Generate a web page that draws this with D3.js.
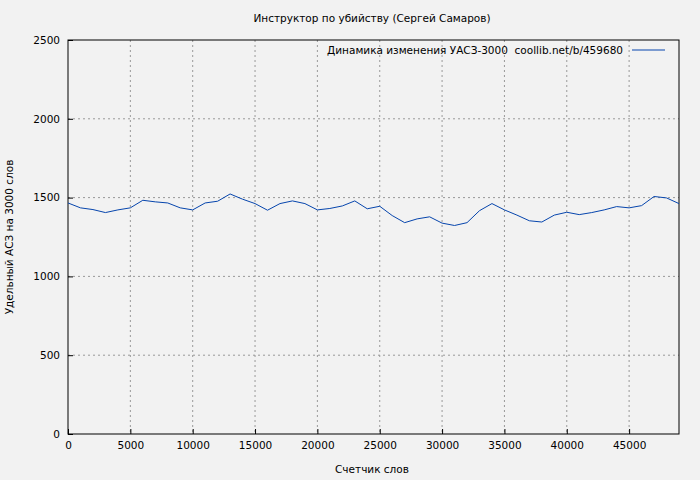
<!DOCTYPE html>
<html><head><meta charset="utf-8">
<script src="https://cdn.jsdelivr.net/npm/d3@7"></script>
<style>body{margin:0;background:#f2f2f2}</style>
</head><body><svg id="c"></svg>
<script>
const words = d3.range(0, 50000, 1000);
const values = [1466,1435,1424,1405,1422,1435,1483,1473,1466,1435,1422,1466,1477,1523,1490,1462,1420,1462,1479,1462,
  1422,1431,1447,1479,1429,1445,1386,1341,1365,1378,1338,1323,1341,1417,1462,1422,1389,1353,1345,1389,
  1407,1392,1405,1422,1443,1435,1449,1507,1498,1462];
const xTicks = d3.range(0, 50000, 5000);
const yTicks = d3.range(0, 2501, 500);

const W = 700, H = 480, m = {l: 68, r: 21, t: 40, b: 46};
const FS = '10.5px';
const svg = d3.select('#c').attr('width', W).attr('height', H)
  .style('font-family', 'DejaVu Sans').style('font-size', FS);
svg.append('rect').attr('width', W).attr('height', H).attr('fill', '#f2f2f2');

const x = d3.scaleLinear().domain([0, 49000]).range([m.l, W - m.r]);
const y = d3.scaleLinear().domain([0, 2500]).range([H - m.b, m.t]);

// grid
svg.append('g').selectAll('line').data(xTicks.slice(1)).join('line')
  .attr('x1', d => x(d)).attr('x2', d => x(d)).attr('y1', m.t).attr('y2', H - m.b)
  .attr('stroke', '#999').attr('stroke-dasharray', '2,3');
svg.append('g').selectAll('line').data(yTicks.slice(1, -1)).join('line')
  .attr('y1', d => y(d)).attr('y2', d => y(d)).attr('x1', m.l).attr('x2', W - m.r)
  .attr('stroke', '#999').attr('stroke-dasharray', '2,3');

const ax = svg.append('g').attr('transform', `translate(0,${H - m.b})`)
  .call(d3.axisBottom(x).tickValues(xTicks).tickSizeInner(-5).tickSizeOuter(0).tickPadding(8).tickFormat(d3.format('d')));
const ay = svg.append('g').attr('transform', `translate(${m.l},0)`)
  .call(d3.axisLeft(y).tickValues(yTicks).tickSizeInner(-5).tickSizeOuter(0).tickPadding(8).tickFormat(d3.format('d')));
[ax, ay].forEach(a => { a.select('.domain').remove(); a.selectAll('text').attr('fill', '#000').style('font-family', 'DejaVu Sans').style('font-size', FS); });

svg.append('rect').attr('x', m.l).attr('y', m.t).attr('width', W - m.r - m.l).attr('height', H - m.b - m.t)
  .attr('fill', 'none').attr('stroke', '#000');

svg.append('path').datum(words.map((w, i) => [w, values[i]]))
  .attr('fill', 'none').attr('stroke', '#0645ad').attr('stroke-width', 1)
  .attr('d', d3.line().x(d => x(d[0])).y(d => y(d[1])));

svg.append('text').attr('x', 372).attr('y', 22).attr('text-anchor', 'middle').text('Инструктор по убийству (Сергей Самаров)');
svg.append('text').attr('x', 372).attr('y', 473).attr('text-anchor', 'middle').text('Счетчик слов');
svg.append('text').attr('transform', `translate(13,${(m.t + H - m.b) / 2}) rotate(-90)`).attr('text-anchor', 'middle').text('Удельный АСЗ на 3000 слов');
svg.append('text').attr('x', 623).attr('y', 54).attr('text-anchor', 'end').text('Динамика изменения УАСЗ-3000  coollib.net/b/459680').attr('xml:space', 'preserve');
svg.append('line').attr('x1', 632).attr('x2', 665).attr('y1', 50).attr('y2', 50).attr('stroke', '#0645ad');
</script></body></html>
